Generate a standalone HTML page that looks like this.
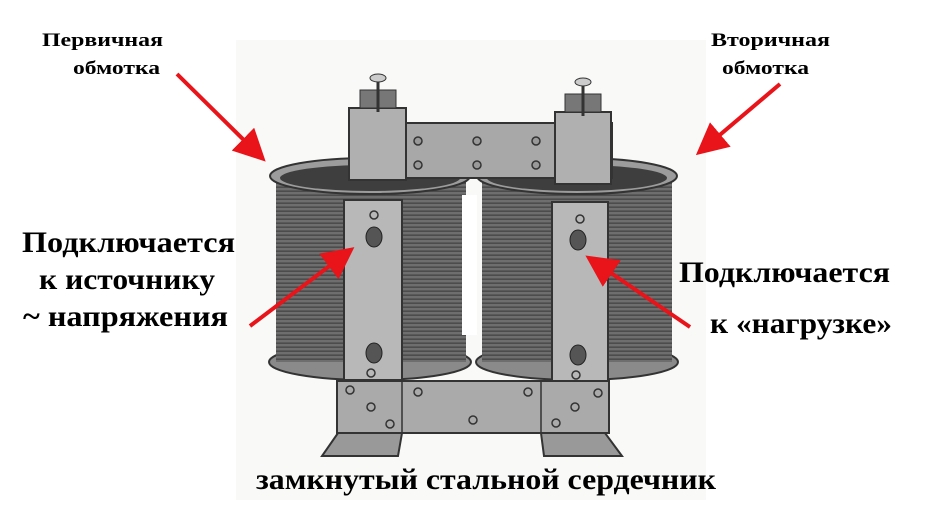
<!DOCTYPE html>
<html><head><meta charset="utf-8"><style>
body{margin:0;background:#fff;width:935px;height:523px;overflow:hidden}
svg{display:block}
text{font-family:"Liberation Serif",serif;fill:#000;font-weight:bold}
</style></head><body>
<svg width="935" height="523" viewBox="0 0 935 523">
<defs>
<pattern id="w" width="6" height="4" patternUnits="userSpaceOnUse">
<rect width="6" height="4" fill="#6e6e6e"/><rect y="2.5" width="6" height="1.3" fill="#444"/>
</pattern>
<marker id="a" markerWidth="8" markerHeight="8" refX="6" refY="4" orient="auto" markerUnits="strokeWidth">
<path d="M0,0 L8,4 L0,8 z" fill="#e8141a"/></marker>
</defs>
<rect x="236" y="40" width="470" height="460" fill="#f9f9f8"/>
<!-- left coil -->
<ellipse cx="370" cy="362" rx="101" ry="18" fill="#8a8a8a" stroke="#333" stroke-width="2"/>
<rect x="276" y="178" width="190" height="184" fill="url(#w)"/>
<ellipse cx="370" cy="176" rx="100" ry="18" fill="#9c9c9c" stroke="#333" stroke-width="2"/>
<ellipse cx="370" cy="178" rx="90" ry="13" fill="#3e3e3e"/>
<!-- right coil -->
<ellipse cx="577" cy="362" rx="101" ry="18" fill="#8a8a8a" stroke="#333" stroke-width="2"/>
<rect x="482" y="178" width="190" height="184" fill="url(#w)"/>
<ellipse cx="577" cy="176" rx="100" ry="18" fill="#9c9c9c" stroke="#333" stroke-width="2"/>
<ellipse cx="577" cy="178" rx="90" ry="13" fill="#3e3e3e"/>
<rect x="462" y="195" width="15" height="140" fill="#fff"/>
<!-- top yoke -->
<rect x="350" y="123" width="262" height="55" fill="#a8a8a8" stroke="#333" stroke-width="2"/>
<g fill="#999" stroke="#333" stroke-width="1.5">
<circle cx="418" cy="141" r="4"/><circle cx="477" cy="141" r="4"/><circle cx="536" cy="141" r="4"/>
<circle cx="418" cy="165" r="4"/><circle cx="477" cy="165" r="4"/><circle cx="536" cy="165" r="4"/></g>
<!-- terminal blocks -->
<rect x="349" y="108" width="57" height="72" fill="#b0b0b0" stroke="#333" stroke-width="2"/>
<rect x="555" y="112" width="56" height="72" fill="#b0b0b0" stroke="#333" stroke-width="2"/>
<rect x="360" y="90" width="36" height="18" fill="#777" stroke="#333"/>
<rect x="565" y="94" width="36" height="18" fill="#777" stroke="#333"/>
<line x1="378" y1="80" x2="378" y2="112" stroke="#333" stroke-width="3"/>
<line x1="583" y1="84" x2="583" y2="116" stroke="#333" stroke-width="3"/>
<ellipse cx="378" cy="78" rx="8" ry="4" fill="#ccc" stroke="#333"/>
<ellipse cx="583" cy="82" rx="8" ry="4" fill="#ccc" stroke="#333"/>
<!-- vertical plates -->
<rect x="344" y="200" width="58" height="180" fill="#b8b8b8" stroke="#333" stroke-width="2"/>
<rect x="552" y="202" width="56" height="180" fill="#b8b8b8" stroke="#333" stroke-width="2"/>
<g fill="#555" stroke="#222"><ellipse cx="374" cy="237" rx="8" ry="10"/><ellipse cx="374" cy="353" rx="8" ry="10"/>
<ellipse cx="578" cy="240" rx="8" ry="10"/><ellipse cx="578" cy="355" rx="8" ry="10"/></g>
<g fill="none" stroke="#333" stroke-width="1.5"><circle cx="374" cy="215" r="4"/><circle cx="371" cy="373" r="4"/><circle cx="580" cy="219" r="4"/><circle cx="576" cy="375" r="4"/></g>
<!-- bottom yoke -->
<rect x="337" y="381" width="272" height="52" fill="#aaa" stroke="#333" stroke-width="2"/>
<line x1="402" y1="381" x2="402" y2="433" stroke="#333" stroke-width="1.5"/>
<line x1="541" y1="381" x2="541" y2="433" stroke="#333" stroke-width="1.5"/>
<g fill="none" stroke="#333" stroke-width="1.5"><circle cx="350" cy="390" r="4"/><circle cx="371" cy="407" r="4"/><circle cx="390" cy="424" r="4"/><circle cx="418" cy="392" r="4"/><circle cx="473" cy="420" r="4"/><circle cx="528" cy="392" r="4"/><circle cx="556" cy="423" r="4"/><circle cx="575" cy="407" r="4"/><circle cx="598" cy="393" r="4"/></g>
<path d="M338,433 L402,433 L398,456 L322,456 Z" fill="#999" stroke="#333" stroke-width="2"/>
<path d="M541,433 L605,433 L622,456 L544,456 Z" fill="#999" stroke="#333" stroke-width="2"/>
<!-- arrows -->
<g stroke="#e8141a" stroke-width="4" fill="none" marker-end="url(#a)">
<line x1="177" y1="74" x2="260" y2="156"/>
<line x1="780" y1="84" x2="702" y2="150"/>
<line x1="250" y1="326" x2="348" y2="252"/>
<line x1="690" y1="327" x2="592" y2="260"/>
</g>
<text x="42" y="46" font-size="19" textLength="121" lengthAdjust="spacingAndGlyphs">Первичная</text>
<text x="73" y="74" font-size="19" textLength="87" lengthAdjust="spacingAndGlyphs">обмотка</text>
<text x="711" y="46" font-size="19" textLength="119" lengthAdjust="spacingAndGlyphs">Вторичная</text>
<text x="722" y="74" font-size="19" textLength="87" lengthAdjust="spacingAndGlyphs">обмотка</text>
<g font-size="30">
<text x="22" y="252" textLength="213" lengthAdjust="spacingAndGlyphs">Подключается</text>
<text x="39" y="289" textLength="176" lengthAdjust="spacingAndGlyphs">к источнику</text>
<text x="23" y="326" textLength="205" lengthAdjust="spacingAndGlyphs">~ напряжения</text>
<text x="679" y="282" textLength="211" lengthAdjust="spacingAndGlyphs">Подключается</text>
<text x="710" y="333" textLength="182" lengthAdjust="spacingAndGlyphs">к «нагрузке»</text>
<text x="256" y="489" textLength="460" lengthAdjust="spacingAndGlyphs">замкнутый стальной сердечник</text>
</g>
</svg>
</body></html>
